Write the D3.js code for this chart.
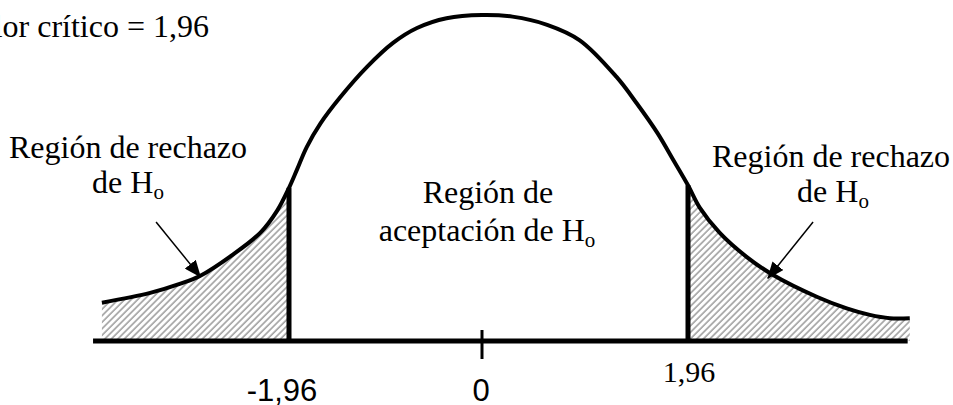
<!DOCTYPE html>
<html>
<head>
<meta charset="utf-8">
<script src="https://cdn.jsdelivr.net/npm/d3@7"></script>
<style>
  body { margin: 0; background: #fff; }
  svg { display: block; }
</style>
</head>
<body>
<div id="chart-area"></div>
<script>
// curve: z value and height of the density
var zValues = [-3.86, -3.37, -3.07, -2.86, -2.53, -2.25, -2.08, -1.96, -1.88, -1.78, -1.64, -1.44, -1.17, -0.90, -0.66, -0.36, 0,
               0.29, 0.62, 0.93, 1.28, 1.47, 1.67, 1.82, 1.96, 2.07, 2.26, 2.52, 2.77, 3.19, 3.47, 3.69, 3.88, 4.07];
var density = [0.047, 0.059, 0.070, 0.080, 0.106, 0.133, 0.160, 0.188, 0.210, 0.238, 0.267, 0.299, 0.336, 0.366, 0.384, 0.396, 0.400,
               0.398, 0.388, 0.369, 0.324, 0.292, 0.255, 0.222, 0.191, 0.164, 0.133, 0.103, 0.081, 0.054, 0.040, 0.032, 0.028, 0.028];

var criticalValues = [-1.96, 1.96];
var tickValues = [-1.96, 0, 1.96];
var tickLabels = ["-1,96", "0", "1,96"];
var axisExtent = [-3.95, 4.05];

// arrows: [z start, density start, z end, density end]
var arrows = [[-3.31, 0.146, -2.86, 0.079], [3.15, 0.146, 2.72, 0.077]];

var titleText = "Valor crítico = 1,96";
var rejectLines = ["Región de rechazo", "de H"];
var acceptLines = ["Región de", "aceptación de H"];

var points = zValues.map(function(z, i){ return { z: z, d: density[i] }; });

var width = 953, height = 405;
var svg = d3.select("#chart-area").append("svg")
    .attr("width", width)
    .attr("height", height);

var x = d3.scaleLinear().domain([-1.96, 0, 1.96]).range([289, 482, 688]);
var y = d3.scaleLinear().domain([0, 0.4]).range([341, 15]);

var defs = svg.append("defs");

var pattern = defs.append("pattern")
    .attr("id", "hatch")
    .attr("patternUnits", "userSpaceOnUse")
    .attr("width", 4.6)
    .attr("height", 10)
    .attr("patternTransform", "rotate(45)");
pattern.append("line")
    .attr("x1", 1).attr("y1", 0)
    .attr("x2", 1).attr("y2", 10)
    .attr("stroke", "#8a8a8a")
    .attr("stroke-width", 1.3);

defs.append("clipPath").attr("id", "clip-left")
  .append("rect")
    .attr("x", 0).attr("y", 0)
    .attr("width", x(-1.96)).attr("height", height);
defs.append("clipPath").attr("id", "clip-right")
  .append("rect")
    .attr("x", x(1.96)).attr("y", 0)
    .attr("width", width - x(1.96)).attr("height", height);

defs.append("marker")
    .attr("id", "arrowhead")
    .attr("markerUnits", "userSpaceOnUse")
    .attr("viewBox", "0 0 17 14")
    .attr("refX", 16).attr("refY", 7)
    .attr("markerWidth", 17).attr("markerHeight", 14)
    .attr("orient", "auto")
  .append("path")
    .attr("d", "M0,0 L17,7 L0,14 Z")
    .attr("fill", "#000");

var area = d3.area()
    .x(function(d){ return x(d.z); })
    .y0(y(0))
    .y1(function(d){ return y(d.d); })
    .curve(d3.curveCatmullRom.alpha(0.5));

var line = d3.line()
    .x(function(d){ return x(d.z); })
    .y(function(d){ return y(d.d); })
    .curve(d3.curveCatmullRom.alpha(0.5));

// hatched tails
["clip-left", "clip-right"].forEach(function(id){
    svg.append("path")
        .datum(points)
        .attr("d", area)
        .attr("fill", "url(#hatch)")
        .attr("clip-path", "url(#" + id + ")");
});

// critical value lines
svg.selectAll(".crit")
    .data(criticalValues)
    .enter()
    .append("line")
        .attr("class", "crit")
        .attr("x1", function(d){ return x(d); })
        .attr("x2", function(d){ return x(d); })
        .attr("y1", y(0))
        .attr("y2", function(d){
            var i = zValues.indexOf(d);
            return y(density[i]);
        })
        .attr("stroke", "#000")
        .attr("stroke-width", 5);

// base line
svg.append("line")
    .attr("x1", x(axisExtent[0]))
    .attr("x2", x(axisExtent[1]))
    .attr("y1", y(0))
    .attr("y2", y(0))
    .attr("stroke", "#000")
    .attr("stroke-width", 5);

// tick at zero
svg.append("line")
    .attr("x1", x(0)).attr("x2", x(0))
    .attr("y1", y(0) - 11).attr("y2", y(0) + 18)
    .attr("stroke", "#000")
    .attr("stroke-width", 3);

// the curve
svg.append("path")
    .datum(points)
    .attr("d", line)
    .attr("fill", "none")
    .attr("stroke", "#000")
    .attr("stroke-width", 4);

// arrows
svg.selectAll(".arrow")
    .data(arrows)
    .enter()
    .append("line")
        .attr("class", "arrow")
        .attr("x1", function(d){ return x(d[0]); })
        .attr("y1", function(d){ return y(d[1]); })
        .attr("x2", function(d){ return x(d[2]); })
        .attr("y2", function(d){ return y(d[3]); })
        .attr("stroke", "#000")
        .attr("stroke-width", 1.5)
        .attr("marker-end", "url(#arrowhead)");

var serif = "'Liberation Serif', 'Times New Roman', serif";
var sans = "'Liberation Sans', Arial, sans-serif";

function addText(str, px, py, size, family, sub){
    var t = svg.append("text")
        .attr("x", px)
        .attr("y", py)
        .attr("text-anchor", "middle")
        .attr("font-family", family)
        .attr("font-size", size + "px")
        .attr("fill", "#000")
        .text(str);
    if (sub) {
        t.append("tspan")
            .attr("font-size", "21px")
            .attr("dy", 6)
            .text("o");
    }
    return t;
}

// title (clipped at the left edge like the original)
svg.append("text")
    .attr("x", 209)
    .attr("y", 37)
    .attr("text-anchor", "end")
    .attr("font-family", serif)
    .attr("font-size", "32px")
    .text(titleText);

addText(rejectLines[0], 128, 158, 32, serif, false);
addText(rejectLines[1], 128, 193, 32, serif, true);
addText(rejectLines[0], 831, 167, 32, serif, false);
addText(rejectLines[1], 833, 202, 32, serif, true);
addText(acceptLines[0], 488, 203, 32, serif, false);
addText(acceptLines[1], 487, 241, 32, serif, true);

// tick labels
addText(tickLabels[0], x(tickValues[0]) - 7, 401, 31, sans, false);
addText(tickLabels[1], x(tickValues[1]) - 1, 401, 31, sans, false);
addText(tickLabels[2], x(tickValues[2]) + 1, 382, 30, serif, false);
</script>
</body>
</html>
